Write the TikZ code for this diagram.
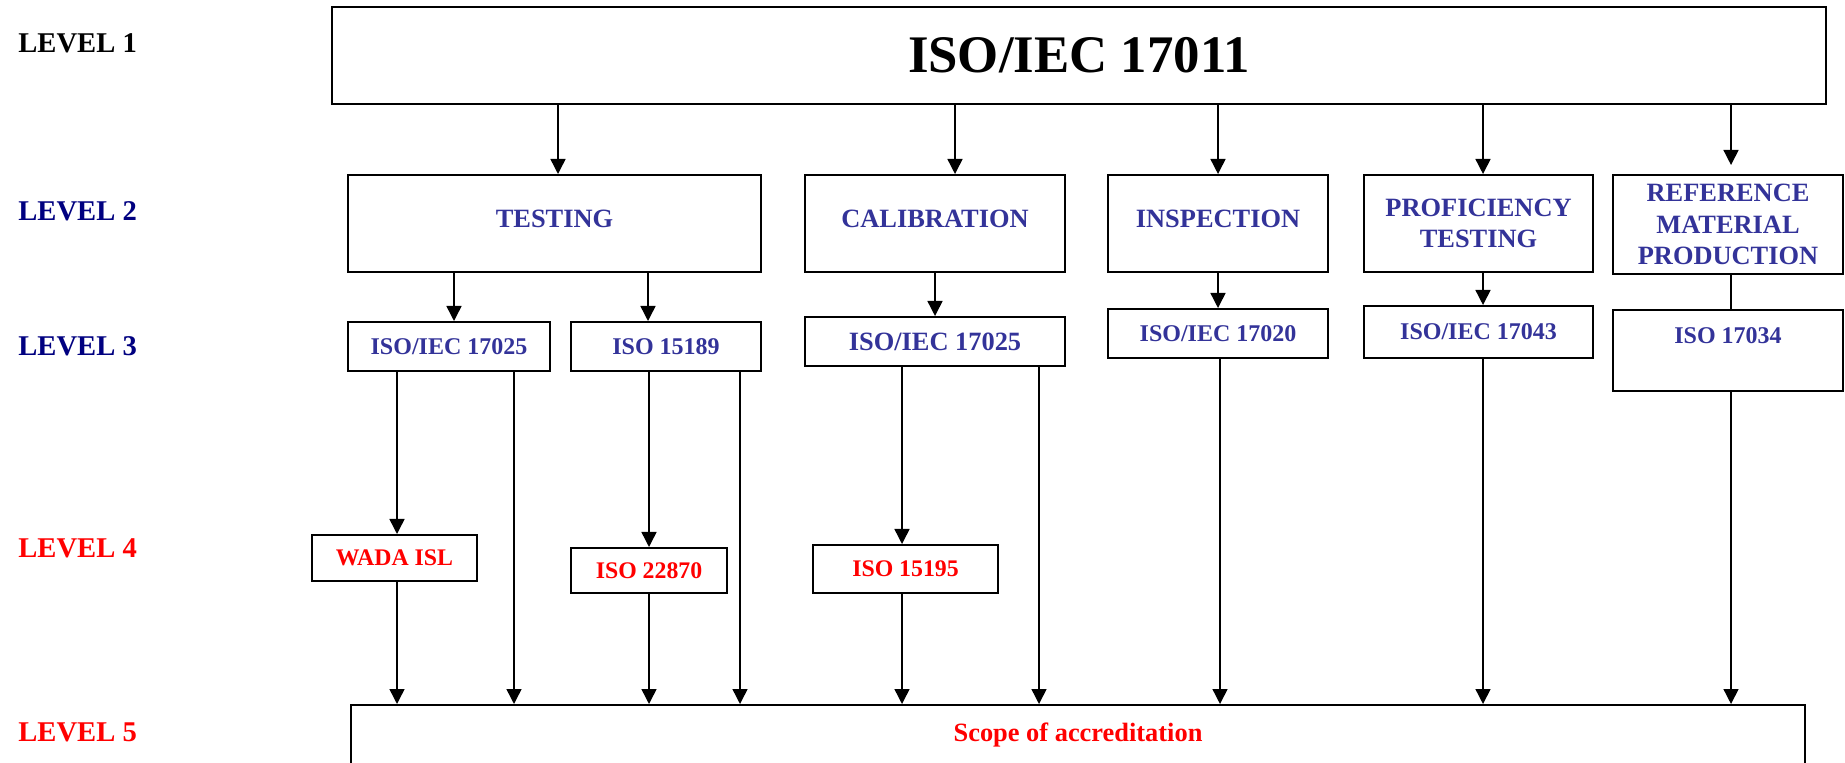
\documentclass[tikz,border=0pt]{standalone}
\usepackage{fontspec}
\setmainfont{Liberation Serif}
\usepackage{xcolor}
\definecolor{lvlnavy}{rgb}{0.0, 0.0, 0.5}
\definecolor{boxblue}{rgb}{0.2, 0.2, 0.6}
\usetikzlibrary{arrows.meta}
\tikzset{>={Triangle[length=7.5pt,width=7.5pt]}}
\tikzset{
  box/.style={draw, line width=1pt, inner sep=0pt, align=center},
  lvl/.style={anchor=west, inner sep=0pt, font=\fontsize{14.3}{17}\selectfont\bfseries},
  boxtwo/.style={box, text=boxblue, font=\fontsize{13.2}{15.8}\selectfont\bfseries},
  boxthree/.style={box, text=boxblue, font=\fontsize{12}{14.4}\selectfont\bfseries},
  boxfour/.style={box, text=red, font=\fontsize{11.9}{14.4}\selectfont\bfseries},
  link/.style={line width=0.75pt}
}

\begin{document}
\begin{tikzpicture}[x=0.5pt, y=-0.5pt]
\useasboundingbox (0,0) rectangle (1845,763);

\node[lvl] (lvla) at (18,43){LEVEL 1};
\node[lvl, text=lvlnavy] (lvlb) at (18,211){LEVEL 2};
\node[lvl, text=lvlnavy] (lvlc) at (18,346){LEVEL 3};
\node[lvl, text=red] (lvld) at (18,548){LEVEL 4};
\node[lvl, text=red] (lvle) at (18,732){LEVEL 5};

\node[box, minimum width=747pt, minimum height=48.5pt, font=\fontsize{26.4}{30}\selectfont\bfseries] (top) at (1079,55.5){ISO/IEC 17011};

\node[boxtwo, minimum width=206.5pt, minimum height=48.5pt, text depth=4.5pt] (tst) at (554.5,223.5){TESTING};
\node[boxtwo, minimum width=130pt, minimum height=48.5pt, text depth=4.5pt] (cal) at (935,223.5){CALIBRATION};
\node[boxtwo, minimum width=110pt, minimum height=48.5pt, text depth=4.5pt] (insp) at (1218,223.5){INSPECTION};
\node[boxtwo, minimum width=114.5pt, minimum height=48.5pt] (prof) at (1478.5,223.5){PROFICIENCY\\TESTING};
\node[boxtwo, minimum width=115pt, minimum height=49.5pt] (ref) at (1728,224.5){REFERENCE\\MATERIAL\\PRODUCTION};

\node[boxthree, minimum width=100.75pt, minimum height=24.5pt] (iecA) at (449,346.5){ISO/IEC 17025};
\node[boxthree, minimum width=95pt, minimum height=24.5pt] (med) at (666,346.5){ISO 15189};
\node[boxthree, minimum width=130pt, minimum height=24.5pt, font=\fontsize{13.2}{15.8}\selectfont\bfseries] (iecB) at (935,341.5){ISO/IEC 17025};
\node[boxthree, minimum width=110pt, minimum height=24.5pt] (insp3) at (1218,333.5){ISO/IEC 17020};
\node[boxthree, minimum width=114.5pt, minimum height=26pt] (pt3) at (1478.5,332){ISO/IEC 17043};
\node[boxthree, anchor=north, minimum width=115pt, text height=17pt, text depth=23.5pt] (rm3) at (1728,309){ISO 17034};

\node[boxfour, minimum width=82.5pt, minimum height=23pt] (wada) at (394.5,558){WADA ISL};
\node[boxfour, minimum width=78pt, minimum height=22.5pt] (poct) at (649,570.5){ISO 22870};
\node[boxfour, minimum width=92.5pt, minimum height=24pt] (ref4) at (905.5,569){ISO 15195};

\node[box, anchor=north, minimum width=727pt, text height=18.4pt, text depth=30pt, text=red, font=\fontsize{13.2}{15.8}\selectfont\bfseries] (scope) at (1078,704){Scope of accreditation};

\draw[link, ->] ([xshift=1.75pt]tst.north |- top.south) -- ([xshift=1.75pt]tst.north);
\draw[link, ->] ([xshift=10pt]cal.north |- top.south) -- ([xshift=10pt]cal.north);
\draw[link, ->] (insp.north |- top.south) -- (insp.north);
\draw[link, ->] ([xshift=2.25pt]prof.north |- top.south) -- ([xshift=2.25pt]prof.north);
\draw[link, ->, shorten >=4.5pt] ([xshift=1.5pt]ref.north |- top.south) -- ([xshift=1.5pt]ref.north);

\draw[link, ->] ([xshift=2.5pt]iecA.north |- tst.south) -- ([xshift=2.5pt]iecA.north);
\draw[link, ->] ([xshift=-9pt]med.north |- tst.south) -- ([xshift=-9pt]med.north);
\draw[link, ->] (iecB.north |- cal.south) -- (iecB.north);
\draw[link, ->] (insp3.north |- insp.south) -- (insp3.north);
\draw[link, ->] ([xshift=2.25pt]pt3.north |- prof.south) -- ([xshift=2.25pt]pt3.north);
\draw[link] ([xshift=1.5pt]ref.south) -- ([xshift=1.5pt]rm3.north);

\draw[link, ->] ([xshift=1.25pt]wada.north |- iecA.south) -- ([xshift=1.25pt]wada.north);
\draw[link, ->] (poct.north |- med.south) -- (poct.north);
\draw[link, ->] ([xshift=-1.75pt]ref4.north |- iecB.south) -- ([xshift=-1.75pt]ref4.north);

\draw[link, ->] ([xshift=1.25pt]wada.south) -- ([xshift=1.25pt]wada.south |- scope.north);
\draw[link, ->] (poct.south) -- (poct.south |- scope.north);
\draw[link, ->] ([xshift=-1.75pt]ref4.south) -- ([xshift=-1.75pt]ref4.south |- scope.north);
\draw[link, ->] ([xshift=32.5pt]iecA.south) -- ([xshift=32.5pt]iecA.south |- scope.north);
\draw[link, ->] ([xshift=37pt]med.south) -- ([xshift=37pt]med.south |- scope.north);
\draw[link, ->] ([xshift=52pt]iecB.south) -- ([xshift=52pt]iecB.south |- scope.north);
\draw[link, ->] ([xshift=1pt]insp3.south) -- ([xshift=1pt]insp3.south |- scope.north);
\draw[link, ->] ([xshift=2.25pt]pt3.south) -- ([xshift=2.25pt]pt3.south |- scope.north);
\draw[link, ->] ([xshift=1.5pt]rm3.south) -- ([xshift=1.5pt]rm3.south |- scope.north);
\end{tikzpicture}
\end{document}
